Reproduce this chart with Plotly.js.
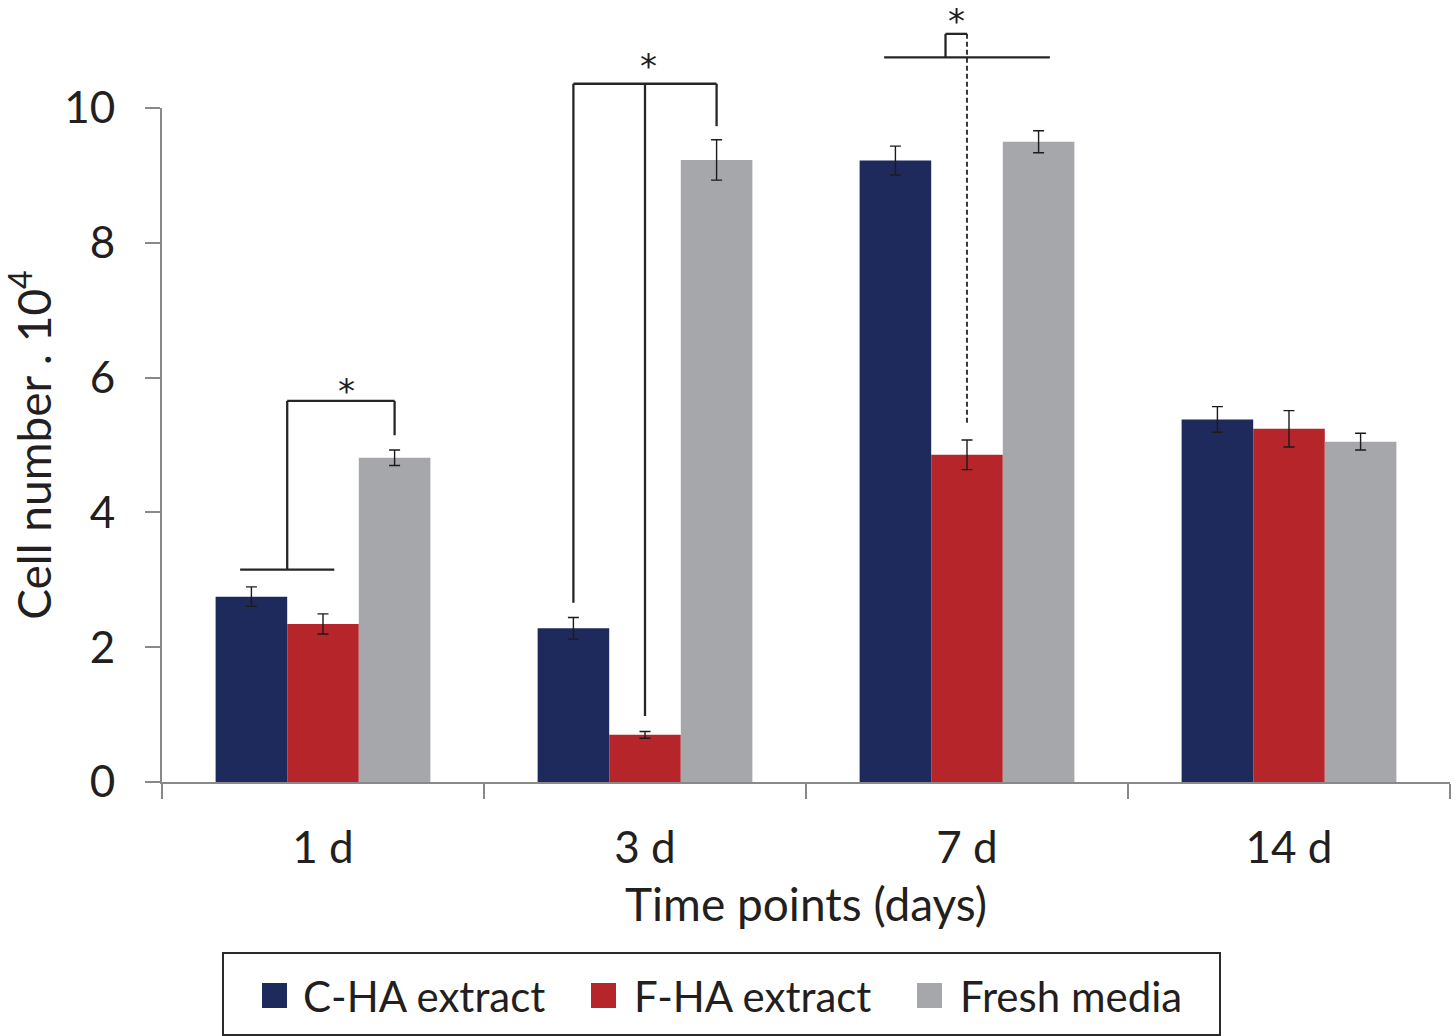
<!DOCTYPE html>
<html>
<head>
<meta charset="utf-8">
<script src="https://cdn.plot.ly/plotly-3.0.1.min.js"></script>
<style>
  html, body { margin: 0; padding: 0; background: #ffffff; }
  #chart { width: 1456px; height: 1036px; }
</style>
</head>
<body>
<div id="chart"></div>
<script>
// Cell counts (x 10^4) per time point, mean and error
const timePoints = ['1 d', '3 d', '7 d', '14 d'];
const seriesNames = ['C-HA extract', 'F-HA extract', 'Fresh media'];
const chaExtract = [2.75, 2.28, 9.22, 5.38];
const chaError = [0.145, 0.16, 0.215, 0.19];
const fhaExtract = [2.345, 0.70, 4.855, 5.24];
const fhaError = [0.15, 0.05, 0.22, 0.27];
const freshMedia = [4.81, 9.23, 9.50, 5.05];
const freshError = [0.115, 0.30, 0.163, 0.125];
const yTicks = [0, 2, 4, 6, 8, 10];

// Significance brackets (cell-number levels)
const bracket1d = [3.15, 5.655, 5.145];        // shared base, bridge, drop to fresh media
const bracket3d = [10.36, 2.66, 0.98, 9.73];   // bridge, legs to C-HA, F-HA, fresh media
const bracket7d = [10.75, 11.10, 5.32];        // base, bridge, dashed drop to F-HA

const colors = ['#1f2a5c', '#b6252a', '#a6a7aa'];
const axisGrey = '#898989';
const ink = '#231f20';
const FONT = 'Lato, "Open Sans", sans-serif';

const Y_MAX = 10;
const BARGAP = 0.333;
const w = (1 - BARGAP) / 3;     // width of one bar in category units
const py = v => v / Y_MAX;      // level -> paper y (axis spans 0..Y_MAX)

const values = [chaExtract, fhaExtract, freshMedia];
const errors = [chaError, fhaError, freshError];

const traces = seriesNames.map((name, i) => ({
  type: 'bar',
  name: name,
  x: timePoints,
  y: values[i],
  marker: { color: colors[i], line: { width: 0 } },
  error_y: { type: 'data', array: errors[i], visible: true, color: '#1b1b1b', thickness: 1.4, width: 5.5 },
  showlegend: false,
  hoverinfo: 'x+y+name'
}));

const lineStyle = { color: '#262626', width: 2.3 };
function seg(x0, y0, x1, y1, dash) {
  return {
    type: 'line', xref: 'x', yref: 'paper',
    x0: x0, x1: x1, y0: py(y0), y1: py(y1),
    line: Object.assign({}, lineStyle, dash ? { dash: dash, width: 1.8 } : {})
  };
}

const shapes = [];
const pad = 0.035;

// 1 d: C-HA and F-HA vs fresh media
let g = 0;
shapes.push(seg(g - w - pad, bracket1d[0], g + pad, bracket1d[0]));
shapes.push(seg(g - w / 2, bracket1d[0], g - w / 2, bracket1d[1]));
shapes.push(seg(g - w / 2, bracket1d[1], g + w, bracket1d[1]));
shapes.push(seg(g + w, bracket1d[1], g + w, bracket1d[2]));

// 3 d: all three groups
g = 1;
shapes.push(seg(g - w, bracket3d[0], g + w, bracket3d[0]));
shapes.push(seg(g - w, bracket3d[0], g - w, bracket3d[1]));
shapes.push(seg(g, bracket3d[0], g, bracket3d[2]));
shapes.push(seg(g + w, bracket3d[0], g + w, bracket3d[3]));

// 7 d: F-HA vs the others
g = 2;
const hook = 0.3 * w;
shapes.push(seg(g - w - pad, bracket7d[0], g + w + pad, bracket7d[0]));
shapes.push(seg(g - hook, bracket7d[0], g - hook, bracket7d[1]));
shapes.push(seg(g - hook, bracket7d[1], g, bracket7d[1]));
shapes.push(seg(g, bracket7d[1], g, bracket7d[2], '5px,3px'));

const starFont = { family: '"DejaVu Sans", sans-serif', size: 34, color: ink };
function star(x, level, shift) {
  return {
    xref: 'x', yref: 'paper', x: x, y: py(level),
    text: '*', showarrow: false, xanchor: 'center', yanchor: 'bottom',
    yshift: shift, font: starFont
  };
}
const annotations = [
  star(0 + w / 3, bracket1d[1], -12),
  star(1 + 0.01, bracket3d[0], -4),
  star(2 - hook / 2, bracket7d[1], -9)
];

// Legend box drawn in paper space below the axis
const plotL = 162, plotR = 1450, plotT = 108, plotB = 782;
const px2x = p => (p - plotL) / (plotR - plotL);
const px2y = p => (plotB - p) / (plotB - plotT);

shapes.push({
  type: 'rect', xref: 'paper', yref: 'paper',
  x0: px2x(223), x1: px2x(1220), y0: px2y(1035), y1: px2y(953),
  line: { color: '#2b2b2b', width: 2 }, fillcolor: 'rgba(0,0,0,0)'
});
const legendSwatchX = [262, 591, 917];
const legendTextX = [301, 632, 958];
seriesNames.forEach((name, i) => {
  shapes.push({
    type: 'rect', xref: 'paper', yref: 'paper',
    x0: px2x(legendSwatchX[i]), x1: px2x(legendSwatchX[i] + 25),
    y0: px2y(1008), y1: px2y(983),
    line: { width: 0 }, fillcolor: colors[i]
  });
  annotations.push({
    xref: 'paper', yref: 'paper', x: px2x(legendTextX[i]), y: px2y(996),
    xanchor: 'left', yanchor: 'middle', showarrow: false,
    text: name, font: { family: FONT, size: 42, color: ink }
  });
});

const layout = {
  width: 1456, height: 1036,
  margin: { l: plotL, r: 1456 - plotR, t: plotT, b: 1036 - plotB },
  paper_bgcolor: '#ffffff', plot_bgcolor: '#ffffff',
  barmode: 'group', bargap: BARGAP, bargroupgap: 0,
  font: { family: FONT, color: ink },
  xaxis: {
    type: 'category',
    showline: true, linecolor: axisGrey, linewidth: 2,
    ticks: 'outside', tickson: 'boundaries', ticklen: 15, tickwidth: 2, tickcolor: axisGrey,
    tickfont: { family: FONT, size: 44, color: ink },
    ticklabelstandoff: 26,
    showgrid: false, zeroline: false,
    title: { text: 'Time points (days)', font: { family: FONT, size: 46, color: ink }, standoff: 18 }
  },
  yaxis: {
    range: [0, Y_MAX],
    tickmode: 'array', tickvals: yTicks, ticktext: yTicks.map(String),
    showline: true, linecolor: axisGrey, linewidth: 2,
    ticks: 'outside', ticklen: 15, tickwidth: 2, tickcolor: axisGrey,
    tickfont: { family: FONT, size: 44, color: ink },
    ticklabelstandoff: 21,
    showgrid: false, zeroline: false,
    title: { text: 'Cell number . 10<sup>4</sup>', font: { family: FONT, size: 46, color: ink }, standoff: 16 }
  },
  shapes: shapes,
  annotations: annotations,
  showlegend: false
};

Plotly.newPlot('chart', traces, layout, { staticPlot: true, displayModeBar: false });
</script>
</body>
</html>
